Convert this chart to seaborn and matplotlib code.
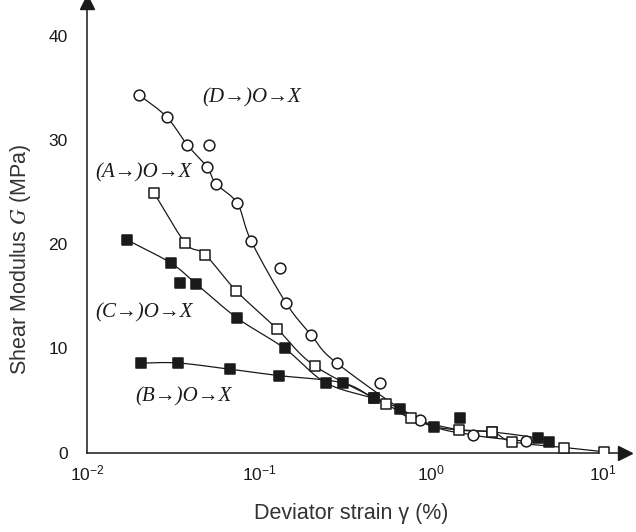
import numpy as np
import pandas as pd
import matplotlib
matplotlib.use('Agg')
import matplotlib.pyplot as plt
import seaborn as sns

# --- DATOS ---
# (D->)O->X : círculos abiertos
d_strain = [0.0201, 0.0290, 0.0383, 0.0512, 0.0498, 0.0561, 0.0748, 0.0900, 0.132, 0.143, 0.201, 0.283, 0.505, 0.865, 1.76, 3.58]
d_modulus = [34.3, 32.2, 29.5, 29.5, 27.4, 25.8, 23.9, 20.3, 17.7, 14.4, 11.3, 8.6, 6.7, 3.1, 1.7, 1.1]
d_on_curve = [1, 1, 1, 0, 1, 1, 1, 1, 0, 1, 1, 1, 0, 1, 1, 1]

# (A->)O->X : cuadrados abiertos
a_strain = [0.0245, 0.0373, 0.0485, 0.0739, 0.127, 0.212, 0.546, 0.769, 1.45, 2.26, 2.98, 5.98, 10.1]
a_modulus = [24.9, 20.1, 19.0, 15.5, 11.9, 8.3, 4.7, 3.3, 2.2, 2.0, 1.05, 0.5, 0.1]

# (C->)O->X : cuadrados rellenos
c_strain = [0.0171, 0.0306, 0.0349, 0.0431, 0.0748, 0.141, 0.245, 0.467, 0.665, 1.04, 1.48, 2.26, 4.2, 4.85]
c_modulus = [20.4, 18.2, 16.3, 16.2, 12.9, 10.0, 6.7, 5.2, 4.2, 2.5, 3.3, 2.0, 1.4, 1.0]
c_on_curve = [1, 1, 0, 1, 1, 1, 1, 1, 1, 1, 0, 1, 1, 1]

# (B->)O->X : cuadrados rellenos
b_strain = [0.0206, 0.034, 0.0682, 0.130, 0.306, 0.467]
b_modulus = [8.6, 8.6, 8.0, 7.4, 6.7, 5.2]

etiquetas = ['(D→)O→X', '(A→)O→X', '(C→)O→X', '(B→)O→X']

# --- CONFIGURACIÓN ---
sns.set_style("white")
plt.rcParams['font.family'] = ['Liberation Sans', 'DejaVu Sans']
plt.rcParams['mathtext.fontset'] = 'stix'
ink = '#1a1a1a'

fig = plt.figure(figsize=(6.36, 5.32), dpi=100)
ax = fig.add_axes([0.137, 0.149, 0.846, 0.847])


def catmull_rom(lx, y, n=20):
    # curva suave que pasa por los puntos (en espacio log x)
    p = np.column_stack([lx, y])
    p = np.vstack([2 * p[0] - p[1], p, 2 * p[-1] - p[-2]])
    t = np.linspace(0, 1, n, endpoint=False)[:, None]
    out = []
    for i in range(1, len(p) - 2):
        p0, p1, p2, p3 = p[i - 1], p[i], p[i + 1], p[i + 2]
        seg = 0.5 * ((2 * p1) + (-p0 + p2) * t + (2 * p0 - 5 * p1 + 4 * p2 - p3) * t ** 2
                     + (-p0 + 3 * p1 - 3 * p2 + p3) * t ** 3)
        out.append(seg)
    out.append(p[-2][None, :])
    return np.vstack(out)


def dibuja_serie(x, y, mask, marker, face):
    df = pd.DataFrame({'x': x, 'y': y, 'm': mask})
    linea = df[df['m'] == 1].sort_values('x')
    pts = catmull_rom(np.log10(linea['x'].values), linea['y'].values)
    curva = pd.DataFrame({'x': 10 ** pts[:, 0], 'y': pts[:, 1]})
    sns.lineplot(data=curva, x='x', y='y', ax=ax, color=ink, lw=0.9, sort=False,
                 estimator=None, zorder=2)
    sns.scatterplot(data=df, x='x', y='y', ax=ax, marker=marker, s=60,
                    facecolor=face, edgecolor=ink, linewidth=1.1, zorder=3)


dibuja_serie(d_strain, d_modulus, d_on_curve, 'o', 'white')
dibuja_serie(b_strain, b_modulus, [1] * len(b_strain), 's', ink)
dibuja_serie(c_strain, c_modulus, c_on_curve, 's', ink)
dibuja_serie(a_strain, a_modulus, [1] * len(a_strain), 's', 'white')

ax.set_xscale('log')
ax.set_xlim(0.01, 13.5)
ax.set_ylim(0, 43.2)
ax.set_xticks([0.01, 0.1, 1, 10])
ax.set_yticks([0, 10, 20, 30, 40])
ax.minorticks_off()
ax.tick_params(axis='y', direction='in', length=6, width=1, colors=ink, labelsize=12.5, pad=14)
ax.tick_params(axis='x', direction='in', length=6, width=1, colors=ink, labelsize=12.5, pad=8)

sns.despine(ax=ax)
for s in ['left', 'bottom']:
    ax.spines[s].set_color(ink)
    ax.spines[s].set_linewidth(1.1)
ax.plot(0, 1, marker='^', ms=10, color=ink, transform=ax.transAxes, clip_on=False)
ax.plot(1, 0, marker='>', ms=10, color=ink, transform=ax.transAxes, clip_on=False)

ax.set_xlabel('Deviator strain γ (%)', fontsize=15.5, color='#333333')
ax.set_ylabel('Shear Modulus $G$ (MPa)', fontsize=15.5, color='#333333')
ax.xaxis.set_label_coords(0.49, -0.112)
ax.yaxis.set_label_coords(-0.1, 0.43)

pos_etiquetas = [(0.047, 34.0), (0.0112, 26.8), (0.0112, 13.4), (0.0191, 5.4)]
for txt, (px, py) in zip(etiquetas, pos_etiquetas):
    ax.text(px, py, txt, fontsize=15, family=['Liberation Serif', 'DejaVu Serif'],
            style='italic', color=ink, ha='left', va='center')

fig.savefig('out.png', dpi=100, facecolor='white')
